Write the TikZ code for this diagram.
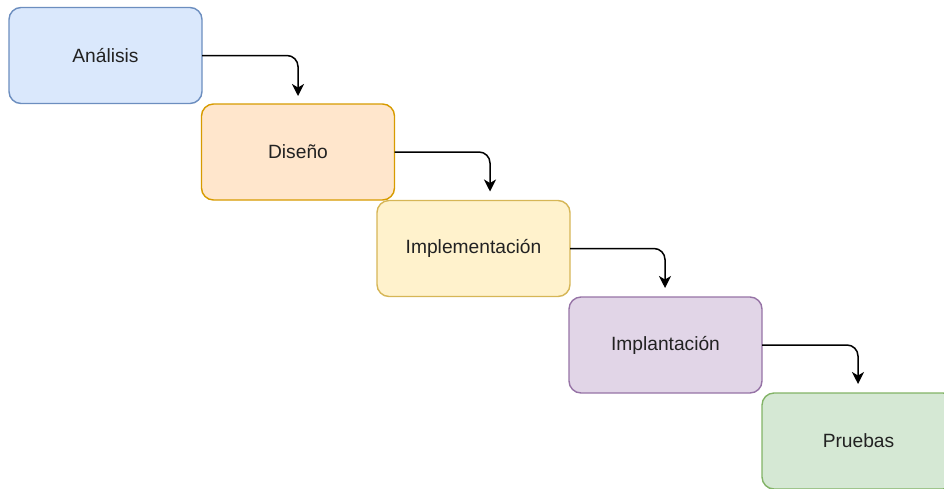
\documentclass[tikz,border=0pt]{standalone}
\usepackage{fontspec}
\setmainfont{Liberation Sans}
\usetikzlibrary{arrows.meta}
\definecolor{bluef}{HTML}{DAE8FC}\definecolor{blued}{HTML}{6C8EBF}
\definecolor{orangef}{HTML}{FFE6CC}\definecolor{oranged}{HTML}{D79B00}
\definecolor{yellowf}{HTML}{FFF2CC}\definecolor{yellowd}{HTML}{D6B656}
\definecolor{purplef}{HTML}{E1D5E7}\definecolor{purpled}{HTML}{9673A6}
\definecolor{greenf}{HTML}{D5E8D4}\definecolor{greend}{HTML}{82B366}
\definecolor{txt}{HTML}{222222}
\tikzset{
  stage/.style={rounded corners=12pt, line width=1.4pt, minimum width=193pt, minimum height=96pt,
    inner sep=0pt, outer sep=0pt, text=txt, font=\fontsize{19.2}{23}\selectfont},
  conn/.style={line width=1.5pt, draw=black, rounded corners=11pt,
    -{Stealth[length=12pt,width=12pt,inset=3.5pt]}},
}
\begin{document}
\begin{tikzpicture}[x=1pt,y=-1pt]
\useasboundingbox (0,0) rectangle (944,488);
\clip (0,0) rectangle (944,488);
\node[stage, fill=bluef, draw=blued] (a) at (105.5,55.5) {Análisis};
\node[stage, fill=orangef, draw=oranged] (b) at (298,152) {Diseño};
\node[stage, fill=yellowf, draw=yellowd] (c) at (473.5,248.5) {Implementación};
\node[stage, fill=purplef, draw=purpled] (d) at (665.5,345) {Implantación};
\node[stage, fill=greenf, draw=greend] (e) at (858.5,441) {Pruebas};
\draw[conn] (a.east) -| ([yshift=8pt]b.north);
\draw[conn] (b.east) -| ([xshift=16.5pt,yshift=9pt]c.north);
\draw[conn] (c.east) -| ([xshift=-0.5pt,yshift=9pt]d.north);
\draw[conn] (d.east) -| ([xshift=-0.5pt,yshift=9pt]e.north);
\end{tikzpicture}
\end{document}
